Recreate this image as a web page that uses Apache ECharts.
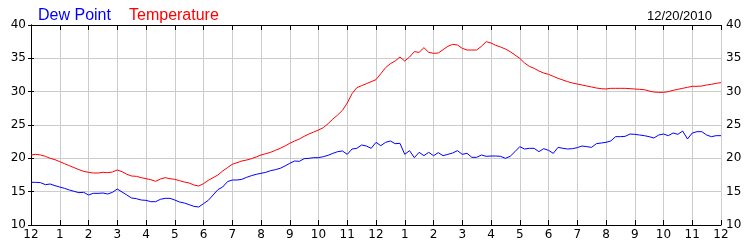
<!DOCTYPE html>
<html>
<head>
<meta charset="utf-8">
<script src="https://cdn.jsdelivr.net/npm/echarts@6/dist/echarts.min.js"></script>
<style>
html,body{margin:0;padding:0;background:#fff;}
#c{width:750px;height:250px;}
</style>
</head>
<body>
<div id="c"></div>
<script>
// Readings every 10 minutes, from 12 AM to 12 AM next day
const sampleMinutes = 10;
const temperature = [
  20.5,20.6,20.5,20.3,20.0,19.8,
  19.5,19.2,18.9,18.6,18.3,18.05,
  17.9,17.8,17.8,17.9,17.85,17.95,
  18.25,18.0,17.6,17.35,17.3,17.1,
  16.95,16.8,16.55,16.9,17.1,16.95,
  16.85,16.65,16.45,16.3,16.0,15.85,
  16.2,16.7,17.1,17.5,18.1,18.6,
  19.1,19.35,19.6,19.75,19.95,20.2,
  20.5,20.7,20.9,21.2,21.5,21.85,
  22.25,22.6,22.9,23.3,23.65,23.95,
  24.25,24.6,25.2,25.9,26.5,27.2,
  28.3,29.7,30.6,30.9,31.2,31.5,
  31.8,32.7,33.6,34.2,34.6,35.2,
  34.6,35.2,36.0,35.9,36.6,35.9,
  35.75,35.8,36.3,36.8,37.1,37.0,
  36.5,36.25,36.25,36.25,36.8,37.5,
  37.3,36.95,36.7,36.4,36.0,35.5,
  35.0,34.3,33.8,33.5,33.1,32.8,
  32.6,32.3,32.0,31.75,31.5,31.3,
  31.15,31.0,30.85,30.7,30.55,30.45,
  30.4,30.5,30.5,30.5,30.5,30.45,
  30.4,30.35,30.3,30.1,29.95,29.9,
  29.9,30.0,30.2,30.35,30.5,30.65,
  30.8,30.8,30.85,31.0,31.1,31.25,
  31.35
];
const dewPoint = [
  16.4,16.4,16.35,16.05,16.15,15.9,
  15.7,15.5,15.25,15.05,14.85,14.9,
  14.5,14.75,14.75,14.8,14.65,14.9,
  15.4,14.95,14.5,14.05,13.95,13.75,
  13.7,13.5,13.5,13.85,14.0,14.0,
  13.75,13.45,13.3,13.05,12.8,12.7,
  13.2,13.7,14.5,15.3,15.7,16.5,
  16.75,16.75,16.85,17.15,17.4,17.6,
  17.75,17.9,18.15,18.3,18.5,18.85,
  19.25,19.6,19.55,19.95,20.0,20.1,
  20.1,20.25,20.45,20.75,21.0,21.1,
  20.6,21.4,21.5,22.0,21.85,21.5,
  22.4,21.9,22.4,22.6,22.2,22.25,
  20.6,21.15,20.1,20.9,20.4,20.9,
  20.4,20.85,20.4,20.6,20.8,21.15,
  20.6,20.75,20.15,20.15,20.5,20.3,
  20.35,20.35,20.3,20.0,20.3,21.0,
  21.75,21.4,21.5,21.5,21.0,21.45,
  21.2,20.75,21.65,21.5,21.4,21.45,
  21.6,21.85,21.75,21.65,22.2,22.3,
  22.4,22.6,23.25,23.25,23.3,23.65,
  23.6,23.5,23.4,23.25,23.05,23.5,
  23.65,23.4,23.8,23.6,24.1,22.9,
  23.8,24.0,24.0,23.5,23.25,23.4,
  23.4
];
const hourLabels = ['12','1','2','3','4','5','6','7','8','9','10','11',
                    '12','1','2','3','4','5','6','7','8','9','10','11','12'];
const yTicks = [10,15,20,25,30,35,40];
const seriesNames = ['Dew Point','Temperature'];
const dateText = '12/20/2010';

const hours = temperature.map((_, i) => i * sampleMinutes / 60);
const pair = arr => arr.map((v, i) => [hours[i], v]);

const FONT = 'DejaVu Sans';
const chart = echarts.init(document.getElementById('c'), null, {renderer:'canvas'});
const xBase = {
  type:'value', min:0, max:24, interval:1,
  axisLine:{show:true, lineStyle:{color:'#000', width:1}},
  axisTick:{show:true, inside:true, length:5, lineStyle:{color:'#000'}},
};
const yBase = {
  type:'value', min:yTicks[0], max:yTicks[yTicks.length-1], interval:5,
  axisLine:{show:true, lineStyle:{color:'#000', width:1}},
  axisTick:{show:true, inside:false, length:3, lineStyle:{color:'#000'}},
  axisLabel:{color:'#000', fontFamily:FONT, fontSize:12, margin:5},
};
chart.setOption({
  animation:false,
  backgroundColor:'#fff',
  title:[
    {text:seriesNames[0], left:33, top:3, textStyle:{color:'#0000ff', fontFamily:'Liberation Sans', fontSize:16, fontWeight:'normal'}},
    {text:seriesNames[1], left:124, top:3, textStyle:{color:'#ff0000', fontFamily:'Liberation Sans', fontSize:16, fontWeight:'normal'}},
    {text:dateText, right:33, top:5, textStyle:{color:'#000', fontFamily:'Liberation Sans', fontSize:13, fontWeight:'normal'}}
  ],
  grid:{left:31, right:29, top:25, bottom:25, containLabel:false},
  xAxis:[
    Object.assign({}, xBase, {
      position:'bottom',
      splitLine:{show:true, lineStyle:{color:'#cccccc', width:1}},
      axisLabel:{color:'#000', fontFamily:FONT, fontSize:12, margin:4,
        formatter:v => hourLabels[Math.round(v)]}
    }),
    Object.assign({}, xBase, {
      position:'top',
      splitLine:{show:false},
      axisLabel:{show:false}
    })
  ],
  yAxis:[
    Object.assign({}, yBase, {position:'left', splitLine:{show:true, lineStyle:{color:'#cccccc', width:1}}}),
    Object.assign({}, yBase, {position:'right', splitLine:{show:false}})
  ],
  series:[
    {name:seriesNames[0], type:'line', data:pair(dewPoint), showSymbol:false, symbol:'none',
     lineStyle:{color:'#0000ff', width:1}, xAxisIndex:0, yAxisIndex:0},
    {name:seriesNames[1], type:'line', data:pair(temperature), showSymbol:false, symbol:'none',
     lineStyle:{color:'#ff0000', width:1}, xAxisIndex:0, yAxisIndex:0}
  ]
});
</script>
</body>
</html>
